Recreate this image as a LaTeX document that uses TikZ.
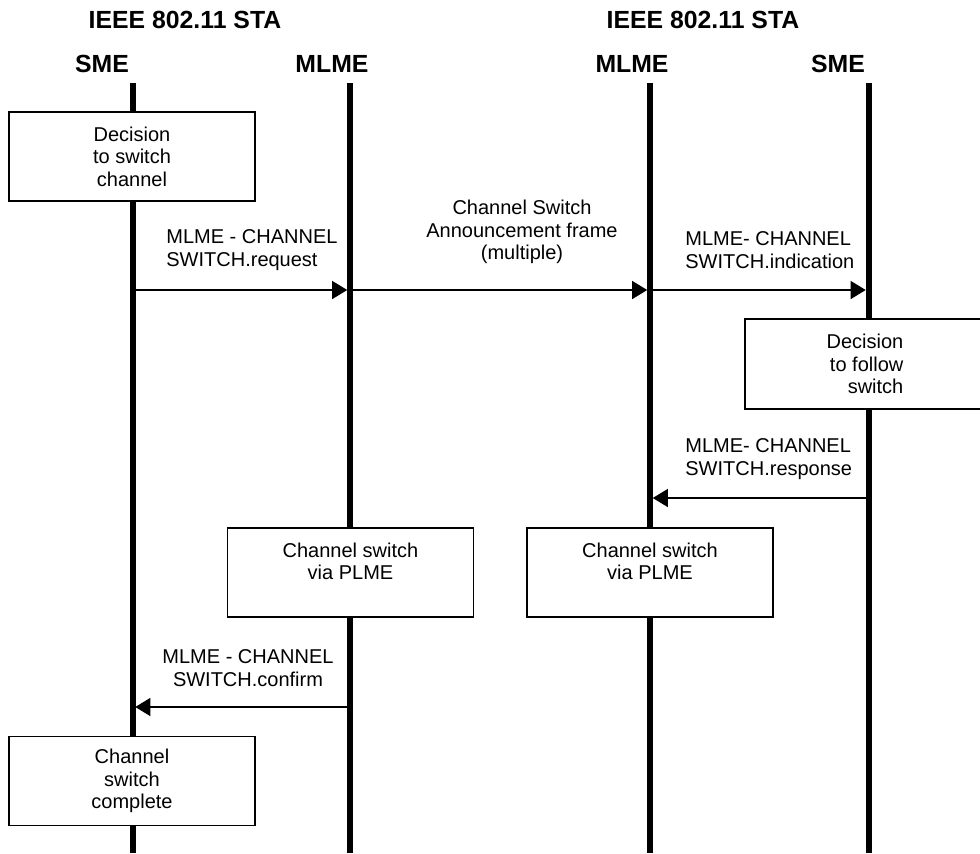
\documentclass[tikz,border=0pt]{standalone}
\usepackage{fontspec}
\setmainfont{Liberation Sans}
\usetikzlibrary{arrows.meta}

\begin{document}
\begin{tikzpicture}[x=0.5pt,y=-0.5pt,line join=miter,
  every node/.style={inner sep=0pt},
  hdr/.style={font=\fontsize{12.4}{14}\selectfont\bfseries,anchor=base},
  txt/.style={font=\fontsize{10}{11.25}\selectfont},
  life/.style={line width=3pt},
  actbox/.style={txt,draw,fill=white,line width=0.55pt,align=center,minimum width=123pt,minimum height=44.5pt},
  msg/.style={-{Triangle[length=7.5pt,width=9pt]},line width=0.55pt,shorten >=1.4pt}]
  \useasboundingbox (0,0) rectangle (980,853);
  \def\xa{132.5}
  \def\xb{350}
  \def\xc{650}
  \def\xd{868.5}
  \def\ytop{83}
  \node[hdr] (staA) at (185,28) {IEEE 802.11 STA};
  \node[hdr] (staB) at (703,28) {IEEE 802.11 STA};
  \node[hdr] (smeAl) at (102,72) {SME};
  \node[hdr] (mlmeAl) at (332,72) {MLME};
  \node[hdr] (mlmeBl) at (632,72) {MLME};
  \node[hdr] (smeBl) at (838,72) {SME};
  \coordinate (smeA) at (\xa,\ytop);
  \coordinate (mlmeA) at (\xb,\ytop);
  \coordinate (mlmeB) at (\xc,\ytop);
  \coordinate (smeB) at (\xd,\ytop);
  \coordinate (bot) at (0,853);
  \foreach \l in {smeA,mlmeA,mlmeB,smeB}
    \draw[life] (\l) -- (\l |- bot);
  \node[actbox] (decA) at (132,156.5) {Decision\\to switch\\channel};
  \node[actbox,align=right,minimum width=120pt,minimum height=45pt] (decB) at (865,364) {Decision\\to follow\\switch};
  \node[actbox] (pleA) at (350.5,572.5) {Channel switch\\via PLME\\\mbox{}};
  \node[actbox] (pleB) at (650,572.5) {Channel switch\\via PLME\\\mbox{}};
  \node[actbox] (done) at (132,781) {Channel\\switch\\complete};
  \coordinate (r1) at (0,290);
  \coordinate (r2) at (0,498);
  \coordinate (r3) at (0,707);
  \draw[msg] (smeA |- r1) -- (mlmeA |- r1);
  \draw[msg] (mlmeA |- r1) -- (mlmeB |- r1);
  \draw[msg] (mlmeB |- r1) -- (smeB |- r1);
  \draw[msg] (smeB |- r2) -- (mlmeB |- r2);
  \draw[msg] (mlmeA |- r3) -- (smeA |- r3);
  \node[txt,align=left,anchor=west] (req) at (166,250) {MLME - CHANNEL\\SWITCH.request};
  \node[txt,align=center] (csa) at (522,232) {Channel Switch\\Announcement frame\\(multiple)};
  \node[txt,align=left,anchor=west] (ind) at (685,250) {MLME- CHANNEL\\SWITCH.indication};
  \node[txt,align=left,anchor=west] (rsp) at (685,459) {MLME- CHANNEL\\SWITCH.response};
  \node[txt,align=center] (cnf) at (248,668) {MLME - CHANNEL\\SWITCH.confirm};
\end{tikzpicture}
\end{document}
